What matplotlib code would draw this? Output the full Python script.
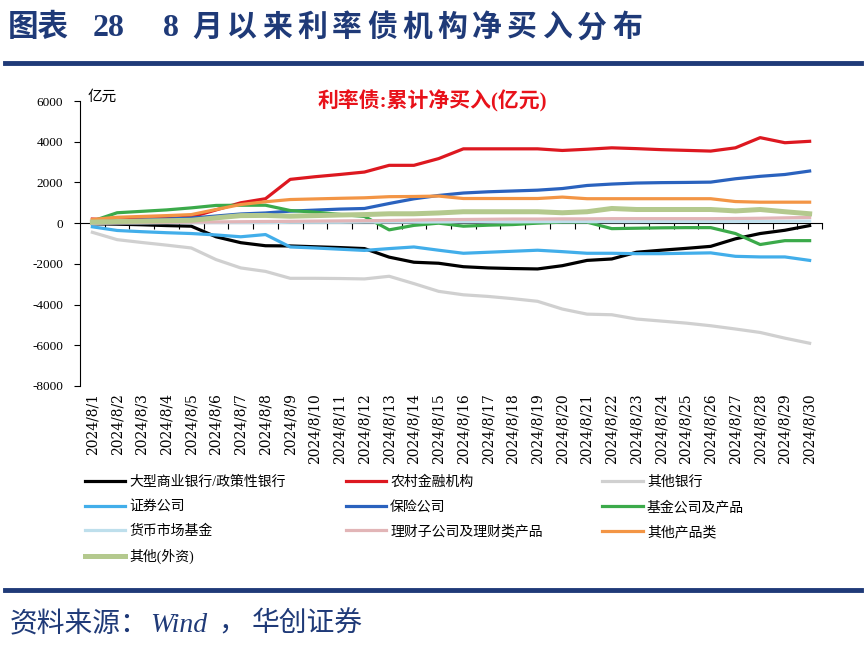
import matplotlib
matplotlib.use('Agg')
import matplotlib.pyplot as plt
from matplotlib.lines import Line2D

plt.rcParams['font.family'] = ['Liberation Serif', 'Noto Sans CJK SC']
plt.rcParams['axes.unicode_minus'] = False

# 日期
dates = ['2024/8/%d' % d for d in range(1, 31)]

# 各机构累计净买入(亿元)
big_banks = [-30, -50, -80, -120, -150, -670, -960, -1110, -1120, -1160, -1200, -1250, -1670, -1920, -1970,
             -2140, -2200, -2230, -2250, -2090, -1830, -1760, -1430, -1330, -1240, -1140, -770, -510, -350, -120]
rural = [200, 150, 200, 220, 300, 650, 1000, 1200, 2150, 2280, 2390, 2510, 2840, 2840, 3170,
         3650, 3650, 3650, 3650, 3570, 3630, 3700, 3660, 3610, 3575, 3540, 3700, 4200, 3950, 4020]
other_banks = [-450, -810, -950, -1080, -1220, -1790, -2200, -2370, -2710, -2710, -2720, -2740, -2610, -2970, -3350,
               -3520, -3600, -3710, -3840, -4220, -4470, -4500, -4710, -4810, -4910, -5040, -5200, -5370, -5650, -5900]
securities = [-180, -360, -420, -470, -510, -580, -670, -560, -1170, -1220, -1280, -1340, -1250, -1170, -1330,
              -1480, -1430, -1380, -1330, -1400, -1480, -1480, -1500, -1500, -1480, -1460, -1630, -1660, -1660, -1830]
insurance = [0, 100, 150, 200, 250, 350, 450, 500, 590, 640, 690, 720, 965, 1195, 1360,
             1480, 1540, 1580, 1620, 1700, 1850, 1920, 1970, 1990, 2000, 2015, 2180, 2300, 2390, 2560]
funds = [100, 510, 580, 650, 750, 870, 880, 880, 620, 540, 430, 330, -330, -110, 0,
         -150, -100, -70, 0, 50, 50, -270, -250, -230, -220, -220, -510, -1050, -860, -860]
money_funds = [0, 10, 10, 20, 20, 30, 30, 30, 40, 40, 40, 50, 50, 50, 60,
               60, 60, 60, 70, 70, 70, 70, 70, 80, 80, 80, 80, 90, 90, 100]
wealth = [0, 20, 30, 40, 50, 60, 70, 80, 90, 100, 110, 120, 130, 150, 170,
          180, 190, 200, 200, 210, 210, 220, 220, 220, 220, 220, 230, 240, 260, 280]
other_products = [180, 290, 330, 370, 420, 670, 915, 1050, 1160, 1190, 1220, 1245, 1300, 1310, 1330,
                  1210, 1210, 1210, 1210, 1280, 1200, 1200, 1200, 1200, 1200, 1200, 1060, 1030, 1030, 1030]
foreign = [50, 80, 100, 120, 140, 260, 370, 380, 340, 370, 400, 420, 460, 460, 500,
           560, 560, 560, 560, 510, 560, 720, 670, 670, 670, 670, 600, 670, 560, 460]

names = ['大型商业银行/政策性银行', '农村金融机构', '其他银行', '证券公司', '保险公司',
         '基金公司及产品', '货币市场基金', '理财子公司及理财类产品', '其他产品类', '其他(外资)']
values = [big_banks, rural, other_banks, securities, insurance,
          funds, money_funds, wealth, other_products, foreign]
colors = ['#000000', '#DD1820', '#D0D0D0', '#42AEEA', '#2A62BE',
          '#3BAA4A', '#BEDFEC', '#E2B5B7', '#F39545', '#B4C98E']
widths = [2.3, 2.3, 2.3, 2.3, 2.3, 2.3, 2.3, 2.3, 2.3, 3.6]

navy = '#1F3A78'

fig = plt.figure(figsize=(8.67, 6.49), dpi=100, facecolor='white')

# 标题(字距较宽, 逐字放置)
ty = 1 - 28/649
fig.text(8/867, ty, '图表', fontsize=22, fontweight='bold', color=navy, va='center', ha='left')
fig.text(93/867, ty, '28', fontsize=23, fontweight='bold', color=navy, va='center', ha='left')
fig.text(163/867, ty, '8', fontsize=23, fontweight='bold', color=navy, va='center', ha='left')
for i, ch in enumerate('月以来利率债机构净买入分布'):
    fig.text((192 + i*35.0)/867, ty, ch, fontsize=21.5, fontweight='bold', color=navy, va='center', ha='left')

fig.add_artist(Line2D([5/867, 861/867], [1-63/649, 1-63/649], lw=3.5, color=navy))
fig.add_artist(Line2D([5/867, 861/867], [1-590/649, 1-590/649], lw=3.5, color=navy))

# 资料来源
sy = 1 - 625/649
fig.text(10/867, sy, '资料来源：', fontsize=20, color=navy, va='center', ha='left')
fig.text(150/867, sy, 'Wind', fontsize=20, style='italic', color=navy, va='center', ha='left')
fig.text(218/867, sy, '，', fontsize=20, color=navy, va='center', ha='left')
fig.text(252/867, sy, '华创证券', fontsize=20, color=navy, va='center', ha='left')

ax = fig.add_axes([80/867, 1-386/649, 742/867, 285/649])

x = list(range(len(dates)))
handles = []
for name, vals, c, lw in zip(names, values, colors, widths):
    h, = ax.plot(x, vals, color=c, lw=lw, label=name, solid_joinstyle='round')
    handles.append(h)

ax.set_xlim(-0.5, len(dates) - 0.5)
ax.set_ylim(-8000, 6000)
ax.set_yticks(range(-8000, 6001, 2000))
ax.set_xticks(x)
ax.set_xticklabels(dates, rotation=90, fontsize=10, family=['DejaVu Serif'])
ax.tick_params(axis='x', length=0, pad=5)
ax.tick_params(axis='y', direction='out', length=4, labelsize=9.5, pad=8)
for s in ['top', 'right', 'bottom']:
    ax.spines[s].set_visible(False)
ax.spines['left'].set_linewidth(0.8)

# 零轴及刻度
sec = ax.secondary_xaxis(8000/14000)
sec.set_xticks([i + 0.5 for i in x])
sec.set_xticklabels([])
sec.set_alignment('bottom')
sec.tick_params(direction='out', length=4, width=0.8)
sec.spines['bottom'].set_linewidth(0.8)

fig.text(88/867, 1-97/649, '亿元', fontsize=10.5, va='center', ha='left')
fig.text(432/867, 1-101/649, '利率债:累计净买入(亿元)', fontsize=15, fontweight='bold',
         color='#E8121A', va='center', ha='center')

# 图例按行排列
order = [0, 3, 6, 9, 1, 4, 7, 2, 5, 8]
fig.legend([handles[i] for i in order], [names[i] for i in order], ncol=3,
           loc='upper left', bbox_to_anchor=(85/867, 1-476/649), frameon=False,
           fontsize=10, handlelength=2.9, handletextpad=0.3, columnspacing=4.3,
           labelspacing=0.8, borderpad=0, borderaxespad=0)

plt.savefig('out.png', dpi=100, facecolor='white')
plt.close()
